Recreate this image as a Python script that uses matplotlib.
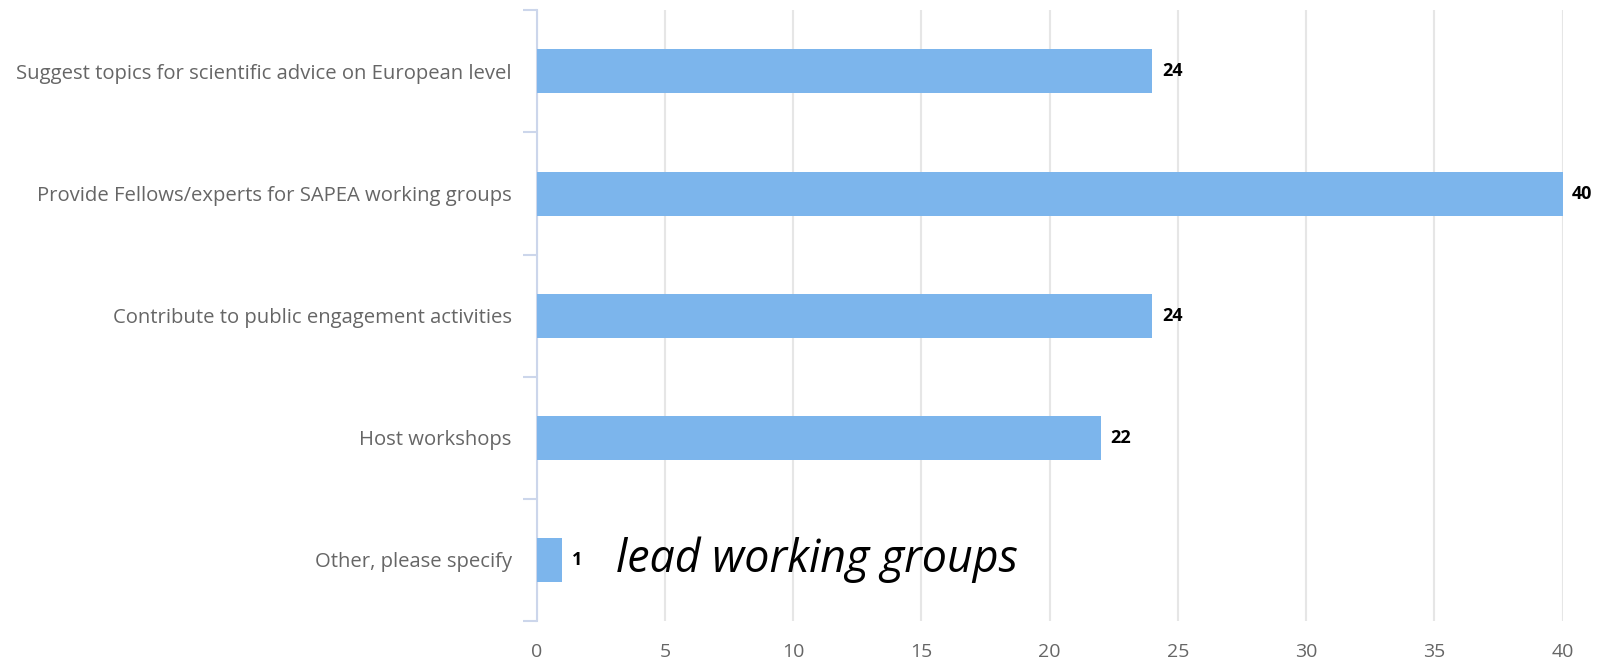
import numpy as np
import matplotlib
matplotlib.use('Agg')
import matplotlib.pyplot as plt

categories = ['Suggest topics for scientific advice on European level',
              'Provide Fellows/experts for SAPEA working groups',
              'Contribute to public engagement activities',
              'Host workshops',
              'Other, please specify']
values = [24, 40, 24, 22, 1]
xticks = [0, 5, 10, 15, 20, 25, 30, 35, 40]
note = 'lead working groups'

plt.rcParams['font.family'] = ['Open Sans', 'DejaVu Sans']

fig = plt.figure(figsize=(16.12, 6.61), dpi=100)
ax = fig.add_axes([0.333, 0.0605, 0.9693 - 0.333, 0.9844 - 0.0605])

pos = np.arange(len(categories))
ax.barh(pos, values, height=0.36, color='#7cb5ec', zorder=3)
for p, v in zip(pos, values):
    ax.annotate(str(v), (v, p), xytext=(7, 0), textcoords='offset points',
                va='center', ha='left', fontsize=13, fontweight='bold', color='#000000')

ax.set_xlim(0, 40)
ax.set_ylim(len(categories) - 0.5, -0.5)
ax.set_xticks(xticks)
ax.set_xticklabels([str(t) for t in xticks], color='#666666', fontsize=14)
ax.tick_params(axis='x', length=0, pad=16)
ax.grid(axis='x', color='#e6e6e6', linewidth=1.5, zorder=0)

ax.set_yticks(pos)
ax.set_yticklabels(categories, color='#666666', fontsize=14.6)
ax.tick_params(axis='y', length=0, pad=18)
ax.set_yticks(np.arange(len(categories) + 1) - 0.5, minor=True)
ax.tick_params(axis='y', which='minor', length=10, color='#ccd6eb', width=1.5)

for s in ['top', 'right', 'bottom']:
    ax.spines[s].set_visible(False)
ax.spines['left'].set_color('#ccd6eb')
ax.spines['left'].set_linewidth(1.5)

ax.text(3.1, 4.0, note, fontsize=32.2, style='italic', color='#000000',
        va='center', ha='left', zorder=4)

fig.savefig('out.png', dpi=100)
